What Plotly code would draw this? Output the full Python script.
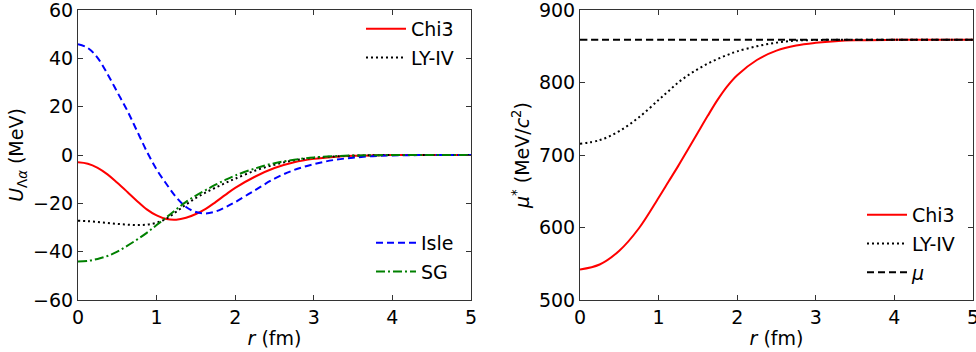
import plotly.graph_objects as go

# ---- Left panel data: U_{Λα}(r) in MeV ----
r_left = [0, 0.125, 0.25, 0.375, 0.5, 0.625, 0.75, 0.875, 1.0, 1.125, 1.25, 1.375, 1.5,
          1.625, 1.75, 1.875, 2.0, 2.25, 2.5, 2.75, 3.0, 3.25, 3.5, 3.75, 4.0, 4.5, 5.0]
chi3_U = [-3.0, -3.6, -5.3, -8.0, -11.5, -15.2, -19.0, -22.5, -25.0, -26.5, -26.8, -26.0, -24.4,
          -22.3, -19.5, -16.5, -13.6, -9.0, -5.4, -3.0, -1.6, -0.8, -0.35, -0.15, -0.05, 0.0, 0.0]
lyiv_U = [-27.2, -27.4, -27.7, -28.1, -28.5, -28.8, -29.0, -28.8, -28.0, -26.3, -23.5, -20.5, -17.8,
          -15.5, -13.5, -11.6, -9.8, -6.5, -4.0, -2.2, -1.2, -0.6, -0.3, -0.1, 0.0, 0.0, 0.0]
isle_U = [45.8, 44.3, 40.2, 33.5, 26.0, 18.5, 10.0, 1.5, -6.0, -12.0, -17.5, -21.5, -23.6,
          -24.2, -23.4, -21.6, -19.5, -14.6, -9.8, -6.2, -3.8, -2.1, -1.1, -0.5, -0.2, 0.0, 0.0]
sg_U = [-44.1, -43.8, -43.0, -41.8, -40.0, -37.6, -35.0, -32.2, -29.0, -25.8, -22.5, -19.4, -16.8,
        -14.5, -12.3, -10.3, -8.5, -5.6, -3.4, -2.0, -1.0, -0.5, -0.2, -0.1, 0.0, 0.0, 0.0]

# ---- Right panel data: μ*(r) in MeV/c^2 ----
r_right = [0, 0.25, 0.5, 0.75, 1.0, 1.125, 1.25, 1.375, 1.5, 1.625, 1.75, 1.875, 2.0, 2.25, 2.5,
           2.75, 3.0, 3.25, 3.5, 4.0, 4.5, 5.0]
chi3_mu = [542, 549, 568, 599, 641, 663, 685, 708, 731, 754, 776, 795, 810, 831, 844,
           851, 854.7, 857, 858.2, 858.8, 859, 859]
lyiv_mu = [715.5, 720.5, 733, 752, 776, 788, 800, 810, 818.5, 826, 832.5, 838, 843, 850, 855,
           857.8, 858.6, 858.9, 859, 859, 859, 859]
mu_val = 859
mu_line = [mu_val] * len(r_right)

FONT = "DejaVu Sans"
FS = 19
fig = go.Figure()

def add(x, y, name, color, dash, xa, ya, legend, group):
    fig.add_trace(go.Scatter(
        x=x, y=y, mode="lines", name=name, xaxis=xa, yaxis=ya,
        line=dict(color=color, width=2, dash=dash, shape="spline", smoothing=1.0),
        legend=legend, legendgroup=group, showlegend=True))

add(r_left, chi3_U, "Chi3", "#ff0000", "solid", "x", "y", "legend", "a1")
add(r_left, lyiv_U, "LY-IV", "black", "2px,3px", "x", "y", "legend", "a2")
add(r_left, isle_U, "Isle", "#0000ff", "7px,4px", "x", "y", "legend2", "b1")
add(r_left, sg_U, "SG", "#008000", "9px,3px,2px,3px", "x", "y", "legend2", "b2")

add(r_right, chi3_mu, "Chi3", "#ff0000", "solid", "x2", "y2", "legend3", "c1")
add(r_right, lyiv_mu, "LY-IV", "black", "2px,3px", "x2", "y2", "legend3", "c2")
add(r_right, mu_line, "<i>μ</i>", "black", "7px,4px", "x2", "y2", "legend3", "c3")

axis_common = dict(showline=True, linecolor="#333333", linewidth=1, mirror="ticks",
                   ticks="inside", ticklen=5, tickcolor="#333333", showgrid=False,
                   zeroline=False, ticklabeloverflow="allow", automargin=False,
                   tickfont=dict(family=FONT, size=FS, color="black"))

dl = (471 - 78) / 895
dr = (580 - 78) / 895

leg_common = dict(font=dict(family=FONT, size=FS, color="black"), bgcolor="rgba(0,0,0,0)",
                  tracegroupgap=1, itemwidth=40, xanchor="right", yanchor="top")

title_font = dict(family=FONT, size=FS, color="black")

fig.update_layout(
    width=976, height=352,
    margin=dict(l=78, r=3, t=10, b=52, autoexpand=False),
    paper_bgcolor="white", plot_bgcolor="white",
    font=dict(family=FONT, size=FS, color="black"),
    xaxis=dict(domain=[0, dl], range=[0, 5], tickvals=[0, 1, 2, 3, 4, 5], anchor="y",
               title=dict(text="<i>r</i> (fm)", font=title_font, standoff=4),
               **axis_common),
    yaxis=dict(domain=[0, 1], range=[-60, 60], tickvals=[-60, -40, -20, 0, 20, 40, 60], anchor="x",
               title=dict(text="<i>U</i><sub>Λ<i>α</i></sub> (MeV)", font=title_font, standoff=4),
               **axis_common),
    xaxis2=dict(domain=[dr, 1], range=[0, 5], tickvals=[0, 1, 2, 3, 4, 5], anchor="y2",
                title=dict(text="<i>r</i> (fm)", font=title_font, standoff=4),
                **axis_common),
    yaxis2=dict(domain=[0, 1], range=[500, 900], tickvals=[500, 600, 700, 800, 900], anchor="x2",
                title=dict(text="<i>μ</i><sup>*</sup> (MeV/<i>c</i><sup>2</sup>)", font=title_font, standoff=4),
                **axis_common),
    legend=dict(x=(459 - 78) / 895, y=(300 - 10) / 290, **leg_common),
    legend2=dict(x=(459 - 78) / 895, y=(300 - 224) / 290, **leg_common),
    legend3=dict(x=(960 - 78) / 895, y=(300 - 196) / 290, **leg_common),
)

fig.write_html("out.html", config={"displayModeBar": False},
               post_script="document.body.style.margin='0';")
